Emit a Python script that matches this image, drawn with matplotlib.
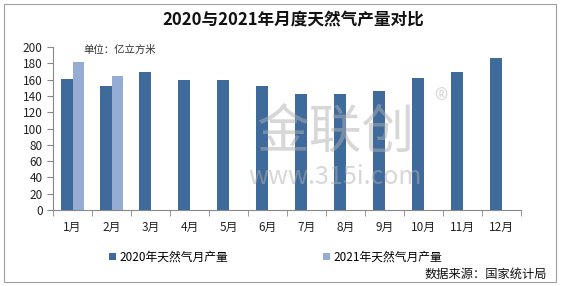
import matplotlib.pyplot as plt
from matplotlib.patches import Rectangle
import numpy as np

plt.rcParams['font.family'] = ['Noto Sans CJK SC', 'DejaVu Sans']

months = ['1月', '2月', '3月', '4月', '5月', '6月', '7月', '8月', '9月', '10月', '11月', '12月']
prod_2020 = [161, 152, 169, 160, 159, 152, 142, 142, 146, 162, 169, 187]
prod_2021 = [182, 165]

c2020 = '#3f6a9c'
c2021 = '#95acd4'

fig = plt.figure(figsize=(5.62, 2.86), dpi=100)
fig.patch.set_facecolor('white')
fig.add_artist(Rectangle((4 / 562, 4 / 286), 552 / 562, 278 / 286, transform=fig.transFigure,
                         fill=False, edgecolor='#a0a0a0', linewidth=0.8))

ax = fig.add_axes([53 / 562, 1 - 210 / 286, 468 / 562, 163 / 286])

x = np.arange(len(months))
w = 0.29
b1 = ax.bar(x - w / 2, prod_2020, w, color=c2020, label='2020年天然气月产量', zorder=2)
b2 = ax.bar(x[:len(prod_2021)] + w / 2, prod_2021, w, color=c2021, label='2021年天然气月产量', zorder=2)

ax.set_xlim(-0.5, 11.5)
ax.set_ylim(0, 200)
ax.set_yticks(range(0, 201, 20))
ax.set_xticks(x)
ax.set_xticklabels(months)
ax.set_xticks(np.arange(-0.5, 12, 1), minor=True)
ax.tick_params(axis='x', which='major', length=0, labelsize=8.5, pad=8, colors='#222222')
ax.tick_params(axis='x', which='minor', length=4, color='#888888')
ax.tick_params(axis='y', length=4, color='#888888', labelsize=8.5, labelcolor='#222222')
for s in ['top', 'right']:
    ax.spines[s].set_visible(False)
for s in ['left', 'bottom']:
    ax.spines[s].set_color('#888888')
    ax.spines[s].set_linewidth(0.8)

fig.text(293 / 562, 1 - 20 / 286, '2020与2021年月度天然气产量对比', ha='center', va='center',
         fontsize=12, fontweight='bold', color='#111111')
fig.text(83 / 562, 1 - 50 / 286, '单位：亿立方米', ha='left', va='center', fontsize=7.5, color='#333333')

# watermark
wm = dict(color='#b0b0b0', alpha=0.5, zorder=5, ha='center', va='center')
fig.text(335 / 562, 1 - 132 / 286, '金联创', fontsize=38, **wm)
fig.text(335 / 562, 1 - 177 / 286, 'www.315i.com', fontsize=18, **wm)
fig.text(441 / 562, 1 - 102 / 286, '®', fontsize=20, **wm)

fig.legend(handles=[b1, b2], loc='center', bbox_to_anchor=(0.49, 1 - 257 / 286), ncol=2,
           frameon=False, fontsize=8.5, handlelength=0.6, handleheight=0.6, handletextpad=0.3,
           columnspacing=8)

fig.text(547 / 562, 1 - 274 / 286, '数据来源：国家统计局', ha='right', va='center', fontsize=8.8,
         color='#111111')

fig.savefig('out.png', dpi=100)
